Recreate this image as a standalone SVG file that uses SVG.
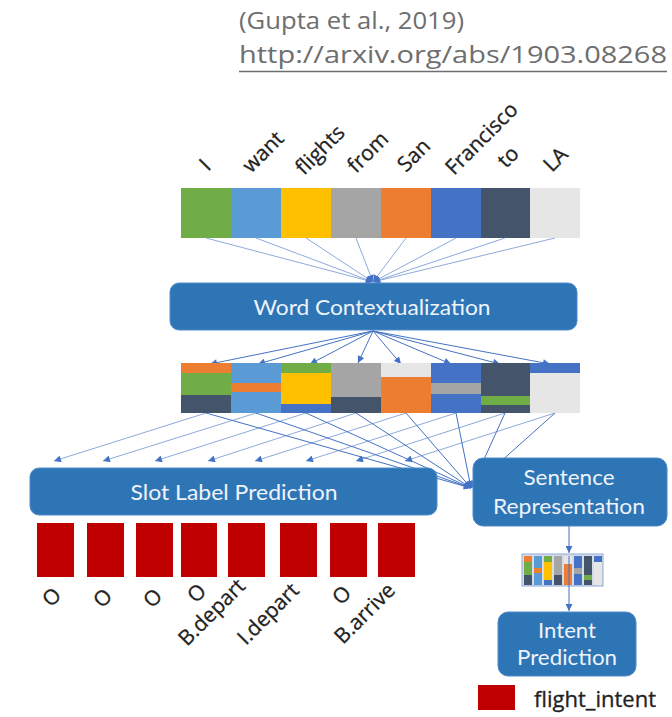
<svg xmlns="http://www.w3.org/2000/svg" width="672" height="717" viewBox="0 0 672 717">
  <style>
    .lbl { font-family: "Open Sans", "Noto Sans", "Liberation Sans", sans-serif; font-size: 21px; fill: #222222; stroke: #222222; stroke-width: 0.3; }
    .boxtxt { font-family: Lato, "Liberation Sans", sans-serif; font-size: 22px; fill: #EEF3FA; text-anchor: middle; }
    .box { fill: #2E75B6; stroke: #4F8BC9; stroke-width: 1; }
    .ref { font-family: "Open Sans", "Noto Sans", "Liberation Sans", sans-serif; font-size: 24px; fill: #6E6E6E; }
    .ln { stroke: #4472C4; stroke-width: 1; fill: none; marker-end: url(#ah); }
    .ln-light { stroke: #8FAADC; stroke-width: 1; fill: none; marker-end: url(#ah); }
    .slot { fill: #C00000; }
  </style>
  <defs>
    <marker id="ah" viewBox="0 0 10 10" refX="10" refY="5" markerUnits="userSpaceOnUse" markerWidth="8" markerHeight="7" orient="auto">
      <path d="M0,0 L10,5 L0,10 z" fill="#4472C4"/>
    </marker>
  </defs>
  <rect width="672" height="717" fill="#FFFFFF"/>

  <!-- citation -->
  <g id="citation">
    <text class="ref" x="239" y="29" textLength="225" lengthAdjust="spacingAndGlyphs">(Gupta et al., 2019)</text>
    <text class="ref" x="239" y="63" textLength="428" lengthAdjust="spacingAndGlyphs">http://arxiv.org/abs/1903.08268</text>
    <line x1="239" y1="71.5" x2="667" y2="71.5" stroke="#6E6E6E" stroke-width="1.5"/>
  </g>

  <!-- input words -->
  <g id="words">
    <text class="lbl" transform="translate(208,172) rotate(-45)">I</text>
    <text class="lbl" transform="translate(251,174) rotate(-45)">want</text>
    <text class="lbl" transform="translate(304,176) rotate(-45)">flights</text>
    <text class="lbl" transform="translate(356,174) rotate(-45)">from</text>
    <text class="lbl" transform="translate(406,173) rotate(-45)">San</text>
    <text class="lbl" transform="translate(454,176) rotate(-45)">Francisco</text>
    <text class="lbl" transform="translate(506,169) rotate(-45)">to</text>
    <text class="lbl" transform="translate(552,173) rotate(-45)">LA</text>
  </g>

  <!-- word embeddings -->
  <g id="embeddings">
    <rect x="181" y="188" width="50" height="50" fill="#70AD47"/>
    <rect x="231" y="188" width="50" height="50" fill="#5B9BD5"/>
    <rect x="281" y="188" width="50" height="50" fill="#FFC000"/>
    <rect x="331" y="188" width="50" height="50" fill="#A5A5A5"/>
    <rect x="381" y="188" width="50" height="50" fill="#ED7D31"/>
    <rect x="431" y="188" width="50" height="50" fill="#4472C4"/>
    <rect x="481" y="188" width="49" height="50" fill="#44546A"/>
    <rect x="530" y="188" width="50" height="50" fill="#E7E6E6"/>
  </g>

  <!-- connectors -->
  <g id="connectors">
    <!-- embeddings into contextualizer -->
    <line class="ln-light" x1="206" y1="238" x2="373" y2="282"/>
    <line class="ln-light" x1="256" y1="238" x2="373" y2="282"/>
    <line class="ln-light" x1="306" y1="238" x2="373" y2="282"/>
    <line class="ln-light" x1="356" y1="238" x2="373" y2="282"/>
    <line class="ln-light" x1="406" y1="238" x2="373" y2="282"/>
    <line class="ln-light" x1="456" y1="238" x2="373" y2="282"/>
    <line class="ln-light" x1="505" y1="238" x2="373" y2="282"/>
    <line class="ln-light" x1="555" y1="238" x2="373" y2="282"/>
    <!-- contextualizer out to contextual vectors -->
    <line class="ln" x1="373" y1="331" x2="210" y2="364"/>
    <line class="ln" x1="373" y1="331" x2="258" y2="364"/>
    <line class="ln" x1="373" y1="331" x2="310" y2="364"/>
    <line class="ln" x1="373" y1="331" x2="358" y2="363"/>
    <line class="ln" x1="373" y1="331" x2="401" y2="364"/>
    <line class="ln" x1="373" y1="331" x2="451" y2="364"/>
    <line class="ln" x1="373" y1="331" x2="500" y2="364"/>
    <line class="ln" x1="373" y1="331" x2="550" y2="364"/>
    <!-- contextual vectors to slot predictor -->
    <line class="ln-light" x1="206" y1="413" x2="54" y2="461"/>
    <line class="ln-light" x1="256" y1="413" x2="103" y2="461"/>
    <line class="ln-light" x1="306" y1="413" x2="155" y2="461"/>
    <line class="ln-light" x1="356" y1="413" x2="208" y2="461"/>
    <line class="ln-light" x1="406" y1="413" x2="255" y2="461"/>
    <line class="ln-light" x1="456" y1="413" x2="306" y2="461"/>
    <line class="ln-light" x1="505" y1="413" x2="356" y2="461"/>
    <line class="ln-light" x1="555" y1="413" x2="405" y2="461"/>
    <!-- contextual vectors to sentence representation -->
    <line class="ln" x1="206" y1="413" x2="471" y2="488"/>
    <line class="ln" x1="256" y1="413" x2="471" y2="488"/>
    <line class="ln" x1="306" y1="413" x2="471" y2="488"/>
    <line class="ln" x1="356" y1="413" x2="471" y2="488"/>
    <line class="ln" x1="406" y1="413" x2="471" y2="488"/>
    <line class="ln" x1="456" y1="413" x2="471" y2="488"/>
    <line class="ln" x1="505" y1="413" x2="471" y2="488"/>
    <line class="ln" x1="555" y1="413" x2="471" y2="488"/>
    <!-- sentence vector to intent -->
    <line class="ln" x1="569" y1="526" x2="569" y2="553"/>
  </g>

  <!-- contextualizer -->
  <g id="word-contextualization">
    <rect class="box" x="170" y="283" width="407" height="47" rx="9"/>
    <text class="boxtxt" x="372" y="315" textLength="237" lengthAdjust="spacingAndGlyphs">Word Contextualization</text>
  </g>

  <!-- contextual vectors -->
  <g id="contextual-vectors">
    <rect x="181" y="363" width="50" height="10" fill="#ED7D31"/>
    <rect x="181" y="373" width="50" height="22" fill="#70AD47"/>
    <rect x="181" y="395" width="50" height="18" fill="#44546A"/>
    <rect x="231" y="363" width="50" height="20" fill="#5B9BD5"/>
    <rect x="231" y="383" width="50" height="9" fill="#ED7D31"/>
    <rect x="231" y="392" width="50" height="21" fill="#5B9BD5"/>
    <rect x="281" y="363" width="50" height="10" fill="#70AD47"/>
    <rect x="281" y="373" width="50" height="31" fill="#FFC000"/>
    <rect x="281" y="404" width="50" height="9" fill="#4472C4"/>
    <rect x="331" y="363" width="50" height="34" fill="#A5A5A5"/>
    <rect x="331" y="397" width="50" height="16" fill="#44546A"/>
    <rect x="381" y="363" width="50" height="14" fill="#E7E6E6"/>
    <rect x="381" y="377" width="50" height="36" fill="#ED7D31"/>
    <rect x="431" y="363" width="50" height="20" fill="#4472C4"/>
    <rect x="431" y="383" width="50" height="11" fill="#A5A5A5"/>
    <rect x="431" y="394" width="50" height="19" fill="#4472C4"/>
    <rect x="481" y="363" width="49" height="33" fill="#44546A"/>
    <rect x="481" y="396" width="49" height="9" fill="#70AD47"/>
    <rect x="481" y="405" width="49" height="8" fill="#44546A"/>
    <rect x="530" y="363" width="50" height="10" fill="#4472C4"/>
    <rect x="530" y="373" width="50" height="40" fill="#E7E6E6"/>
  </g>

  <!-- slot predictor -->
  <g id="slot-label-prediction">
    <rect class="box" x="30" y="468" width="407" height="47" rx="9"/>
    <text class="boxtxt" x="234" y="500" textLength="207" lengthAdjust="spacingAndGlyphs">Slot Label Prediction</text>
  </g>

  <!-- sentence representation -->
  <g id="sentence-representation">
    <rect class="box" x="473" y="458" width="194" height="68" rx="10"/>
    <text class="boxtxt" x="569" y="485" textLength="91" lengthAdjust="spacingAndGlyphs">Sentence</text>
    <text class="boxtxt" x="569" y="514" textLength="152" lengthAdjust="spacingAndGlyphs">Representation</text>
  </g>

  <!-- slot outputs -->
  <g id="slot-outputs">
    <rect class="slot" x="37" y="523" width="37" height="54"/>
    <rect class="slot" x="87" y="523" width="37" height="54"/>
    <rect class="slot" x="136" y="523" width="37" height="54"/>
    <rect class="slot" x="181" y="523" width="36" height="54"/>
    <rect class="slot" x="228" y="523" width="37" height="54"/>
    <rect class="slot" x="280" y="523" width="37" height="54"/>
    <rect class="slot" x="330" y="523" width="37" height="54"/>
    <rect class="slot" x="378" y="523" width="37" height="54"/>
  </g>

  <!-- slot labels -->
  <g id="slot-labels">
    <text class="lbl" transform="translate(51,608) rotate(-45)">O</text>
    <text class="lbl" transform="translate(102,609) rotate(-45)">O</text>
    <text class="lbl" transform="translate(152,609) rotate(-45)">O</text>
    <text class="lbl" transform="translate(196,604) rotate(-45)">O</text>
    <text class="lbl" transform="translate(187,647) rotate(-45)">B.depart</text>
    <text class="lbl" transform="translate(246,646) rotate(-45)">I.depart</text>
    <text class="lbl" transform="translate(341,606) rotate(-45)">O</text>
    <text class="lbl" transform="translate(343,645) rotate(-45)">B.arrive</text>
  </g>

  <!-- pooled sentence vector -->
  <g id="sentence-vector">
    <rect x="522" y="554" width="81" height="32" fill="#D6DCE5" stroke="#8FAADC" stroke-width="1"/>
    <g transform="translate(524,556)">
      <rect x="0" y="0" width="8" height="6" fill="#ED7D31"/>
      <rect x="0" y="6" width="8" height="13" fill="#70AD47"/>
      <rect x="0" y="19" width="8" height="10" fill="#44546A"/>
      <rect x="10" y="0" width="8" height="12" fill="#5B9BD5"/>
      <rect x="10" y="12" width="8" height="5" fill="#ED7D31"/>
      <rect x="10" y="17" width="8" height="12" fill="#5B9BD5"/>
      <rect x="20" y="0" width="8" height="6" fill="#70AD47"/>
      <rect x="20" y="6" width="8" height="18" fill="#FFC000"/>
      <rect x="20" y="24" width="8" height="5" fill="#4472C4"/>
      <rect x="30" y="0" width="8" height="19" fill="#A5A5A5"/>
      <rect x="30" y="19" width="8" height="10" fill="#44546A"/>
      <rect x="40" y="0" width="8" height="8" fill="#E7E6E6"/>
      <rect x="40" y="8" width="8" height="21" fill="#ED7D31"/>
      <rect x="50" y="0" width="8" height="12" fill="#4472C4"/>
      <rect x="50" y="12" width="8" height="6" fill="#A5A5A5"/>
      <rect x="50" y="18" width="8" height="11" fill="#4472C4"/>
      <rect x="60" y="0" width="8" height="19" fill="#44546A"/>
      <rect x="60" y="19" width="8" height="5" fill="#70AD47"/>
      <rect x="60" y="24" width="8" height="5" fill="#44546A"/>
      <rect x="70" y="0" width="8" height="6" fill="#4472C4"/>
      <rect x="70" y="6" width="8" height="23" fill="#E7E6E6"/>
    </g>
    <line class="ln" x1="569" y1="556" x2="569" y2="611"/>
  </g>

  <!-- intent predictor -->
  <g id="intent-prediction">
    <rect class="box" x="498" y="612" width="138" height="64" rx="10"/>
    <text class="boxtxt" x="567" y="638" textLength="58" lengthAdjust="spacingAndGlyphs">Intent</text>
    <text class="boxtxt" x="567" y="665" textLength="100" lengthAdjust="spacingAndGlyphs">Prediction</text>
  </g>

  <!-- legend -->
  <g id="legend">
    <rect class="slot" x="478" y="685" width="37" height="25"/>
    <text class="lbl" x="534" y="707" textLength="122" lengthAdjust="spacingAndGlyphs">flight_intent</text>
  </g>
</svg>
